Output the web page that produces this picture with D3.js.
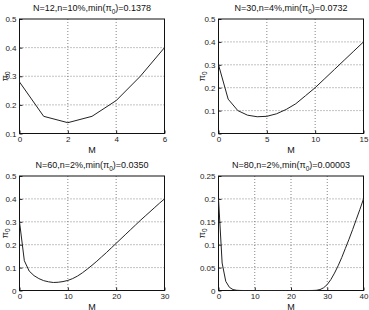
<!DOCTYPE html>
<html>
<head>
<meta charset="utf-8">
<script src="https://cdn.jsdelivr.net/npm/d3@7"></script>
<style>
  body { margin: 0; background: #fff; }
  svg { display: block; font-family: "Liberation Sans", Arial, sans-serif; }
</style>
</head>
<body>
<div id="chart"></div>
<script>
// values
const m1 = [0, 1, 2, 3, 4, 5, 6];
const pi1 = [0.28, 0.16, 0.1378, 0.16, 0.215, 0.30, 0.40];

const m2 = d3.range(0, 16);
const pi2 = [0.30, 0.15, 0.10, 0.08, 0.0732, 0.075, 0.086, 0.105, 0.13, 0.165, 0.20, 0.24, 0.28, 0.32, 0.36, 0.40];

const m3 = d3.range(0, 31);
const pi3 = [0.30, 0.13, 0.085, 0.065, 0.052, 0.043, 0.038, 0.035, 0.036, 0.039, 0.044, 0.052, 0.063,
  0.077, 0.093, 0.11, 0.128, 0.147, 0.166, 0.186, 0.206, 0.226, 0.246, 0.266, 0.286, 0.306,
  0.325, 0.344, 0.363, 0.382, 0.40];

const m4 = d3.range(0, 41);
const pi4 = [0.20, 0.06, 0.02, 0.007, 0.002, 0.0005, 0.0001, 0, 0, 0, 0, 0, 0, 0, 0, 0, 0, 0, 0, 0,
  0, 0, 0, 0, 0, 0, 0.0001, 0.0005, 0.002, 0.006, 0.013, 0.024, 0.038, 0.054, 0.072, 0.092,
  0.112, 0.133, 0.155, 0.177, 0.20];

const titleN = ["N=12,n=10%,min(", "N=30,n=4%,min(", "N=60,n=2%,min(", "N=80,n=2%,min("];
const titleMin = ["0.1378", "0.0732", "0.0350", "0.00003"];
const xDomains = [[0, 6], [0, 15], [0, 30], [0, 40]];
const yDomains = [[0.1, 0.5], [0, 0.5], [0, 0.5], [0, 0.25]];
const xTicks = [[0, 2, 4, 6], [0, 5, 10, 15], [0, 10, 20, 30], [0, 10, 20, 30, 40]];
const yTicks = [[0.1, 0.2, 0.3, 0.4, 0.5], [0, 0.1, 0.2, 0.3, 0.4, 0.5], [0, 0.1, 0.2, 0.3, 0.4, 0.5],
  [0, 0.05, 0.1, 0.15, 0.2, 0.25]];
const seriesM = [m1, m2, m3, m4];
const seriesPi = [pi1, pi2, pi3, pi4];

const width = 369, height = 310;
const boxes = [
  { x: 19.5, y: 19, w: 145, h: 114.5 },
  { x: 218.5, y: 19, w: 145, h: 114.5 },
  { x: 19.5, y: 176, w: 145, h: 114.5 },
  { x: 218.5, y: 176, w: 145, h: 114.5 }
];

const svg = d3.select("#chart").append("svg")
  .attr("width", width)
  .attr("height", height);

boxes.forEach((b, i) => {
  const g = svg.append("g").attr("transform", `translate(${b.x},${b.y})`);
  const x = d3.scaleLinear().domain(xDomains[i]).range([0, b.w]);
  const y = d3.scaleLinear().domain(yDomains[i]).range([b.h, 0]);

  // dotted grid
  g.append("g").selectAll("line")
    .data(xTicks[i].slice(1, -1))
    .join("line")
    .attr("x1", d => x(d)).attr("x2", d => x(d))
    .attr("y1", 0).attr("y2", b.h)
    .attr("stroke", "#666").attr("stroke-width", 0.8).attr("stroke-dasharray", "1,2");
  g.append("g").selectAll("line")
    .data(yTicks[i].slice(1, -1))
    .join("line")
    .attr("x1", 0).attr("x2", b.w)
    .attr("y1", d => y(d)).attr("y2", d => y(d))
    .attr("stroke", "#666").attr("stroke-width", 0.8).attr("stroke-dasharray", "1,2");

  // axes (ticks inward like matlab)
  const xa = g.append("g").attr("transform", `translate(0,${b.h})`)
    .call(d3.axisBottom(x).tickValues(xTicks[i]).tickSizeInner(-3).tickSizeOuter(0).tickPadding(3).tickFormat(d3.format("")));
  const ya = g.append("g")
    .call(d3.axisLeft(y).tickValues(yTicks[i]).tickSizeInner(-3).tickSizeOuter(0).tickPadding(6).tickFormat(d => d === 0 ? "0" : String(d)));
  [xa, ya].forEach(a => {
    a.select(".domain").remove();
    a.selectAll("text").attr("font-size", 8).attr("fill", "#222");
    a.selectAll("line").attr("stroke", "#222");
  });
  ya.selectAll("text").attr("dx", 3);

  g.append("rect")
    .attr("width", b.w).attr("height", b.h)
    .attr("fill", "none").attr("stroke", "#111").attr("stroke-width", 1);

  // curve
  const pts = seriesM[i].map((m, k) => [m, seriesPi[i][k]]);
  g.append("path")
    .datum(pts)
    .attr("fill", "none")
    .attr("stroke", "#222")
    .attr("stroke-width", 1)
    .attr("d", d3.line().x(d => x(d[0])).y(d => y(d[1])));

  // title
  const t = g.append("text")
    .attr("x", b.w / 2).attr("y", -8)
    .attr("text-anchor", "middle")
    .attr("font-size", 9).attr("fill", "#111");
  t.append("tspan").text(titleN[i] + "\u03c0");
  t.append("tspan").attr("font-size", 6.5).attr("dy", 2.5).text("0");
  t.append("tspan").attr("dy", -2.5).text(")=" + titleMin[i]);

  // axis labels
  g.append("text")
    .attr("x", b.w / 2).attr("y", b.h + 19)
    .attr("text-anchor", "middle")
    .attr("font-size", 9).attr("fill", "#111")
    .text("M");
  const yl = g.append("text")
    .attr("transform", `translate(${i % 2 === 0 ? -12 : -14},${b.h / 2}) rotate(-90)`)
    .attr("text-anchor", "middle")
    .attr("font-size", 9).attr("fill", "#111");
  yl.append("tspan").text("\u03c0");
  yl.append("tspan").attr("font-size", 6.5).attr("dy", 2.5).text("0");
});
</script>
</body>
</html>
